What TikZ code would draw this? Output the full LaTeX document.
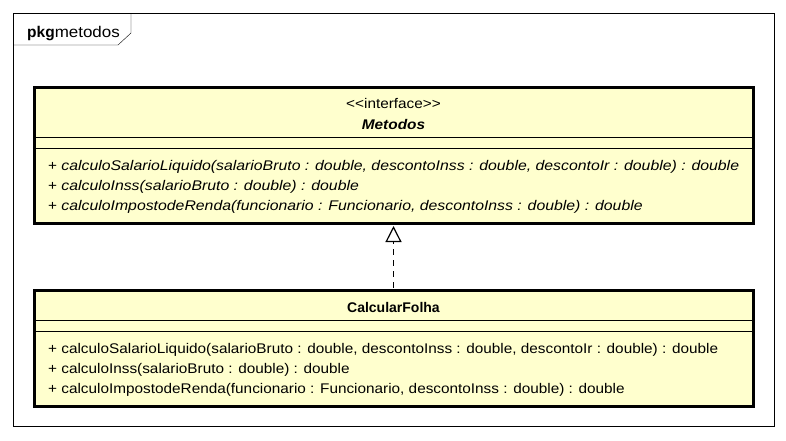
\documentclass[tikz,border=0pt]{standalone}
\usepackage{fontspec}
\setmainfont{Liberation Sans}[FakeStretch=1.095,
	BoldFeatures={FakeStretch=1.0},
	ItalicFeatures={FakeStretch=1.13},
	BoldItalicFeatures={FakeStretch=1.1}]
\usetikzlibrary{arrows.meta,positioning}

\definecolor{umlfill}{RGB}{255,255,206}

\begin{document}
\begin{tikzpicture}[x=1pt,y=-1pt]
	\tikzstyle{classbox}=[draw,line width=3pt,fill=umlfill,rectangle,inner sep=0pt,minimum width=719pt]
	\tikzstyle{member}=[anchor=base west,inner sep=0pt,font=\fontsize{14}{16}\selectfont]
	\tikzstyle{title}=[anchor=base,inner sep=0pt,font=\fontsize{14}{16}\selectfont]
	\useasboundingbox (0,0) rectangle (786,440);

	% package frame
	\draw[thin] (13,13) rectangle (774,426);
	\draw[thin] (13,45) -- (118,45) -- (131,33) -- (131,13);
	\node[member,font=\fontsize{15.5}{17}\selectfont] (pkg) at (27,37) {\textbf{pkg}metodos};

	% interface
	\node[classbox,minimum height=136pt] (metodos) at (393.5,155) {};
	\draw[thin] (34,137) -- (753,137);
	\draw[thin] (34,148) -- (753,148);
	\node[title] (stereo) at (393.5,108) {<\kern0pt<interface>\kern0pt>};
	\node[title] (nome) at (393.5,129) {\textbf{\textit{Metodos}}};
	\node[member] (m1) at (48,170) {+ \textit{calculoSalarioLiquido(salarioBruto : double, descontoInss : double, descontoIr : double) : double}};
	\node[member] (m2) at (48,190) {+ \textit{calculoInss(salarioBruto : double) : double}};
	\node[member] (m3) at (48,210) {+ \textit{calculoImpostodeRenda(funcionario : Funcionario, descontoInss : double) : double}};

	% class
	\node[classbox,minimum height=116pt] (folha) at (393.5,348.5) {};
	\draw[thin] (34,320) -- (753,320);
	\draw[thin] (34,331) -- (753,331);
	\node[title] (nomefolha) at (393.5,312) {\textbf{CalcularFolha}};
	\node[member] (c1) at (48,353) {+ calculoSalarioLiquido(salarioBruto : double, descontoInss : double, descontoIr : double) : double};
	\node[member] (c2) at (48,373) {+ calculoInss(salarioBruto : double) : double};
	\node[member] (c3) at (48,393) {+ calculoImpostodeRenda(funcionario : Funcionario, descontoInss : double) : double};

	% realization
	\draw[line width=1.3pt,dash pattern=on 6pt off 5pt,-{Triangle[open,length=16pt,width=16pt,line width=1.2pt]},shorten >=1.5pt,shorten <=1.5pt] (folha.north) -- (metodos.south);
\end{tikzpicture}
\end{document}
